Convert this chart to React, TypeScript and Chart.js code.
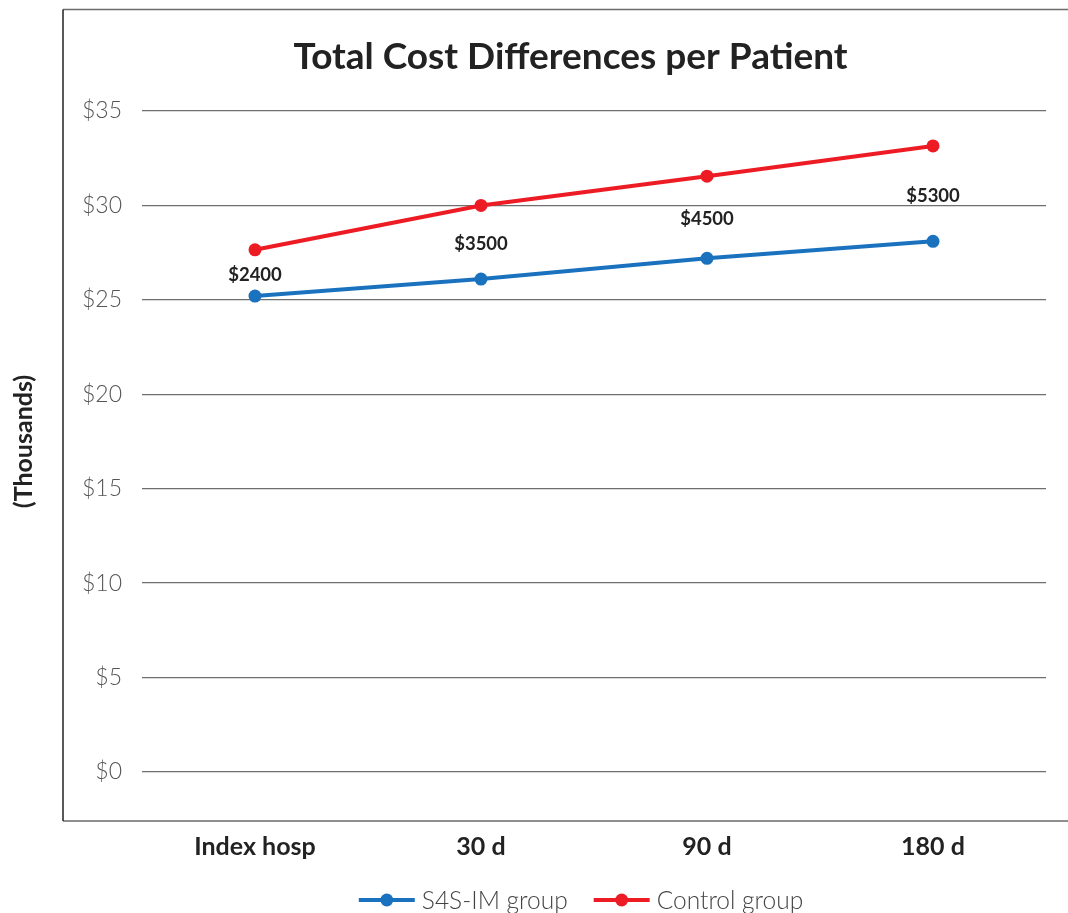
import React, { useEffect, useRef } from 'react';
import { Chart, registerables } from 'chart.js';

Chart.register(...registerables);

const categories = ['Index hosp', '30 d', '90 d', '180 d'];
const s4sValues = [25.2, 26.1, 27.2, 28.1];
const controlValues = [27.65, 30.0, 31.55, 33.15];
const diffLabels = ['$2400', '$3500', '$4500', '$5300'];
const seriesNames = ['S4S-IM group', 'Control group'];
const seriesColors = ['#1a72bf', '#ed1c24'];
const yMin = 0;
const yMax = 35;
const yStep = 5;
const chartTitle = 'Total Cost Differences per Patient';
const yAxisTitle = '(Thousands)';

const FONT = 'Lato, "Noto Sans", sans-serif';

const framePlugin = {
  id: 'frame',
  beforeDraw(chart: any) {
    const { ctx, chartArea, width } = chart;
    const left = chartArea.left - 79;
    const top = 9.5;
    const bottom = chartArea.bottom + 49;
    ctx.save();
    ctx.fillStyle = '#ffffff';
    ctx.fillRect(0, 0, chart.width, chart.height);
    ctx.lineWidth = 1.5;
    ctx.strokeStyle = '#6b6b6b';
    ctx.beginPath();
    ctx.moveTo(left, top);
    ctx.lineTo(width, top);
    ctx.moveTo(left, bottom);
    ctx.lineTo(width, bottom);
    ctx.stroke();
    ctx.strokeStyle = '#222222';
    ctx.beginPath();
    ctx.moveTo(left, top);
    ctx.lineTo(left, bottom);
    ctx.stroke();
    ctx.restore();
  },
};

const titlePlugin = {
  id: 'customTitle',
  afterDraw(chart: any) {
    const { ctx, chartArea } = chart;
    const boxLeft = chartArea.left - 79;
    const cx = (boxLeft + chart.width) / 2 + 5;
    ctx.save();
    ctx.font = `bold 37px ${FONT}`;
    ctx.fillStyle = '#222222';
    ctx.textAlign = 'center';
    ctx.textBaseline = 'middle';
    ctx.fillText(chartTitle, cx, 57);
    ctx.restore();
  },
};

const diffLabelPlugin = {
  id: 'diffLabels',
  afterDatasetsDraw(chart: any) {
    const { ctx, scales } = chart;
    ctx.save();
    ctx.font = `bold 18.5px ${FONT}`;
    ctx.fillStyle = '#222222';
    ctx.textAlign = 'center';
    ctx.textBaseline = 'middle';
    diffLabels.forEach((lab, i) => {
      const x = scales.x.getPixelForValue(i);
      const y = (scales.y.getPixelForValue(s4sValues[i]) + scales.y.getPixelForValue(controlValues[i])) / 2 + 2;
      ctx.fillText(lab, x, y);
    });
    ctx.restore();
  },
};

const legendPlugin = {
  id: 'customLegend',
  afterDraw(chart: any) {
    const { ctx, chartArea } = chart;
    const lineLen = 56;
    const gapText = 7;
    const gapItem = 26;
    ctx.save();
    ctx.font = `300 24.5px ${FONT}`;
    const items = chart.data.datasets.map((ds: any) => ({
      label: ds.label,
      color: ds.borderColor,
      w: lineLen + gapText + ctx.measureText(ds.label).width,
    }));
    const total = items.reduce((s: number, it: any) => s + it.w, 0) + gapItem * (items.length - 1);
    const center = (chartArea.left + chartArea.right) / 2 - 13;
    let x = center - total / 2;
    const y = 900;
    items.forEach((it: any) => {
      ctx.strokeStyle = it.color;
      ctx.lineWidth = 4;
      ctx.beginPath();
      ctx.moveTo(x, y);
      ctx.lineTo(x + lineLen, y);
      ctx.stroke();
      ctx.fillStyle = it.color;
      ctx.beginPath();
      ctx.arc(x + lineLen / 2, y, 6.5, 0, Math.PI * 2);
      ctx.fill();
      ctx.fillStyle = '#444444';
      ctx.textAlign = 'left';
      ctx.textBaseline = 'middle';
      ctx.fillText(it.label, x + lineLen + gapText, y + 1);
      x += it.w + gapItem;
    });
    ctx.restore();
  },
};

export default function App() {
  const canvasRef = useRef<HTMLCanvasElement | null>(null);

  useEffect(() => {
    if (!canvasRef.current) return;
    const chart = new Chart(canvasRef.current, {
      type: 'line',
      data: {
        labels: categories,
        datasets: [
          {
            label: seriesNames[0],
            data: s4sValues,
            borderColor: seriesColors[0],
            backgroundColor: seriesColors[0],
            borderWidth: 4,
            pointRadius: 6.5,
            pointBorderWidth: 0,
            pointBackgroundColor: seriesColors[0],
            tension: 0,
          },
          {
            label: seriesNames[1],
            data: controlValues,
            borderColor: seriesColors[1],
            backgroundColor: seriesColors[1],
            borderWidth: 4,
            pointRadius: 6.5,
            pointBorderWidth: 0,
            pointBackgroundColor: seriesColors[1],
            tension: 0,
          },
        ],
      },
      options: {
        animation: false,
        responsive: true,
        maintainAspectRatio: false,
        layout: { padding: { left: 0, right: 22, top: 111, bottom: 52 } },
        plugins: {
          legend: { display: false },
          title: { display: false },
          tooltip: { enabled: false },
        },
        scales: {
          x: {
            offset: true,
            grid: { display: false, drawTicks: false },
            border: { display: false },
            afterFit: (s: any) => {
              s.height = 89;
            },
            ticks: {
              padding: 60,
              maxRotation: 0,
              color: '#222222',
              font: { family: FONT, size: 25, weight: 'bold' },
            },
          },
          y: {
            min: yMin,
            max: yMax,
            afterFit: (s: any) => {
              s.width = 142;
            },
            ticks: {
              stepSize: yStep,
              padding: 20,
              color: '#555555',
              font: { family: FONT, size: 23, weight: 300 },
              callback: (v: any) => `$${v}`,
            },
            grid: { color: '#6e6e6e', lineWidth: 1.3, drawTicks: false },
            border: { display: false },
            title: {
              display: true,
              text: yAxisTitle,
              color: '#222222',
              font: { family: FONT, size: 25, weight: 'bold' },
              padding: { top: 9, bottom: 20 },
            },
          },
        },
      },
      plugins: [framePlugin, titlePlugin, diffLabelPlugin, legendPlugin],
    });
    return () => chart.destroy();
  }, []);

  return (
    <div style={{ position: 'absolute', left: 0, top: 0, width: 1068, height: 913, background: '#fff' }}>
      <canvas ref={canvasRef} />
    </div>
  );
}
